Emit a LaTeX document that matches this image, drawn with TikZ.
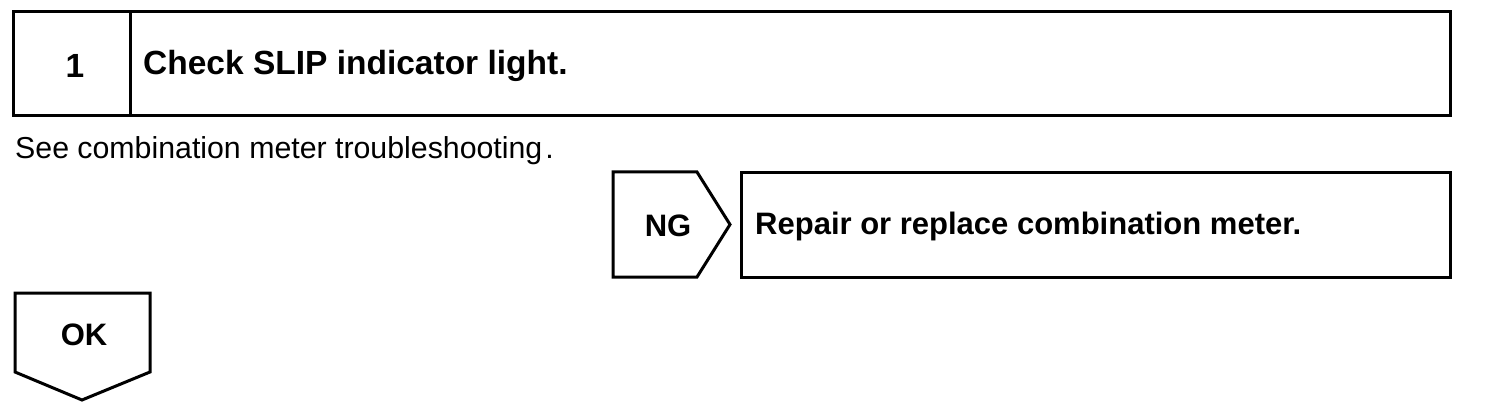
\documentclass[tikz,border=0pt]{standalone}
\usepackage{fontspec}
\setmainfont{Liberation Sans}
\begin{document}
\begin{tikzpicture}[x=1pt,y=-1pt,
  frame/.style={draw=black,line width=3pt,line join=miter},
  bold/.style={font=\fontsize{31}{36}\selectfont\bfseries,inner sep=0pt},
  title/.style={font=\fontsize{33.5}{38}\selectfont\bfseries,inner sep=0pt},
  plain/.style={font=\fontsize{30.3}{36}\selectfont,inner sep=0pt}]
\useasboundingbox (0,0) rectangle (1504,414);
% step box
\draw[frame] (13,12) rectangle (1450,116);
\draw[frame] (130,12) -- (130,116);
\node[title] (num) at (75,66) {1};
\node[title,anchor=west] (stitle) at (143,66) {Check SLIP indicator light.};
\node[plain,anchor=west] (note) at (15,151) {See combination meter troubleshooting\kern3pt.};
% NG
\draw[frame] (613,172) -- (697,172) -- (730,224.5) -- (697,277) -- (613,277) -- cycle;
\node[bold] (ng) at (668,226) {NG};
\draw[frame] (741,173) rectangle (1450,277);
\node[bold,anchor=west] (repair) at (755,226) {Repair or replace combination meter.};
% OK
\draw[frame] (15,293) -- (150,293) -- (150,372) -- (82,400) -- (15,372) -- cycle;
\node[bold] (ok) at (84,335) {OK};
\end{tikzpicture}
\end{document}
